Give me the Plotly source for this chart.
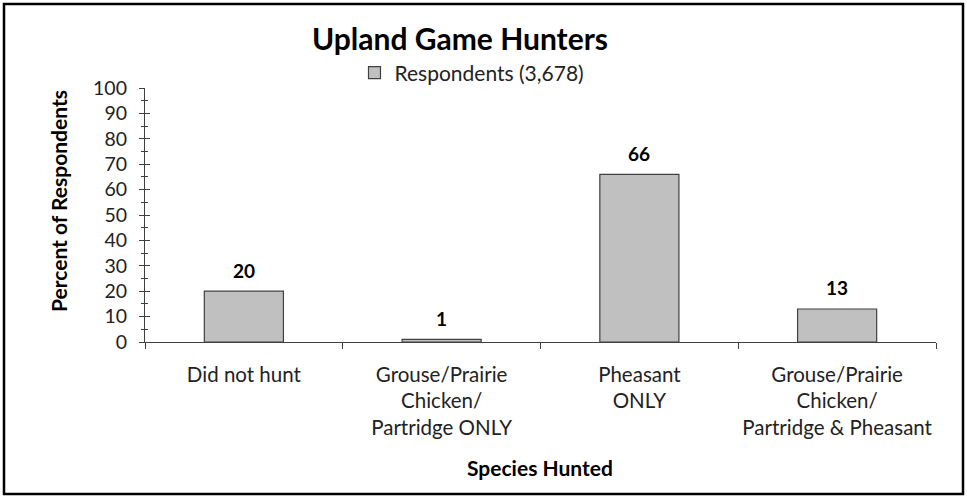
import plotly.graph_objects as go

categories = ["Did not hunt", "Grouse/Prairie<br>Chicken/<br>Partridge ONLY",
              "Pheasant<br>ONLY", "Grouse/Prairie<br>Chicken/<br>Partridge & Pheasant"]
values = [20, 1, 66, 13]
series_name = "Respondents (3,678)"
title_text = "Upland Game Hunters"
y_title = "Percent of Respondents"
x_title = "Species Hunted"
y_ticks = [0, 10, 20, 30, 40, 50, 60, 70, 80, 90, 100]

FONT = "Lato, Carlito, Calibri, sans-serif"
W, H = 967, 499
L, R, T, B = 145, 31, 88, 157
pw, ph = W - L - R, H - T - B

def px_x(p):
    return (p - L) / pw

def px_y(p):
    return (H - B - p) / ph

fig = go.Figure()
fig.add_trace(go.Bar(
    x=categories, y=values, name=series_name,
    marker=dict(color="#C0C0C0", line=dict(color="#404040", width=1.2)),
    width=0.4, showlegend=True, hoverinfo="x+y",
))
# overlay axis to draw inside ticks (cross ticks)
fig.add_trace(go.Scatter(x=[None], y=[None], yaxis="y2", showlegend=False, hoverinfo="skip"))

# data labels
label_annotations = [
    dict(x=c, y=v, xref="x", yref="y", text=f"<b>{v}</b>", showarrow=False,
         yanchor="middle", yshift=21, font=dict(family=FONT, size=19, color="black"))
    for c, v in zip(categories, values)
]

fig.update_layout(
    width=W, height=H, autosize=False,
    margin=dict(l=L, r=R, t=T, b=B, autoexpand=False),
    paper_bgcolor="white", plot_bgcolor="white",
    font=dict(family=FONT, size=20, color="#222"),
    showlegend=True,
    legend=dict(orientation="h", x=px_x(472), xanchor="center", y=px_y(73), yanchor="middle",
                font=dict(family=FONT, size=21, color="#222"), bgcolor="rgba(0,0,0,0)",
                itemwidth=30),
    xaxis=dict(
        showline=True, linecolor="#404040", linewidth=1.2,
        ticks="outside", tickson="boundaries", ticklen=6, tickcolor="#404040",
        tickangle=0, automargin=False, ticklabelstandoff=14,
        tickfont=dict(family=FONT, size=20.5, color="#222"),
        showgrid=False, zeroline=False,
    ),
    yaxis=dict(
        range=[0, 100], tickvals=y_ticks, showline=True, linecolor="#404040", linewidth=1.2,
        ticks="outside", ticklen=5, tickcolor="#404040", automargin=False,
        ticklabelstandoff=8,
        minor=dict(dtick=5, ticks="outside", ticklen=3, tickcolor="#404040"),
        tickfont=dict(family=FONT, size=19.5, color="#222"),
        showgrid=False, zeroline=False,
    ),
    yaxis2=dict(
        range=[0, 100], overlaying="y", side="left", tickvals=y_ticks, showticklabels=False,
        ticks="inside", ticklen=5, tickcolor="#404040", automargin=False,
        minor=dict(dtick=5, ticks="inside", ticklen=3, tickcolor="#404040"),
        showgrid=False, zeroline=False, showline=False,
    ),
    annotations=label_annotations + [
        dict(text=f"<b>{title_text}</b>", xref="paper", yref="paper",
             x=px_x(460), y=px_y(38), xanchor="center", yanchor="middle", showarrow=False,
             font=dict(family=FONT, size=30, color="black")),
        dict(text=f"<b>{y_title}</b>", xref="paper", yref="paper", textangle=-90,
             x=px_x(58), y=px_y(201), xanchor="center", yanchor="middle", showarrow=False,
             font=dict(family=FONT, size=21, color="black")),
        dict(text=f"<b>{x_title}</b>", xref="paper", yref="paper",
             x=px_x(540), y=px_y(467), xanchor="center", yanchor="middle", showarrow=False,
             font=dict(family=FONT, size=21, color="black")),
    ],
    shapes=[
        dict(type="rect", xref="paper", yref="paper",
             x0=px_x(4), x1=px_x(963), y0=px_y(494), y1=px_y(4),
             line=dict(color="black", width=2.5), fillcolor="rgba(0,0,0,0)", layer="above"),
    ],
)

fig.write_html("out.html", config={"displayModeBar": False, "responsive": False},
               post_script="document.body.style.margin='0';document.body.style.overflow='hidden';")
